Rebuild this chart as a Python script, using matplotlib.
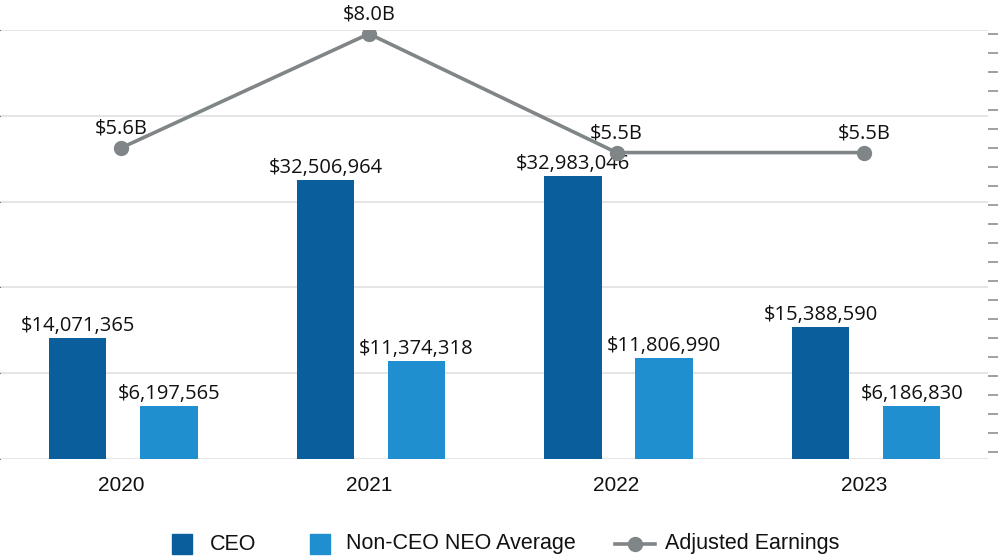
import numpy as np
import matplotlib.pyplot as plt
from matplotlib.patches import Rectangle
from matplotlib.lines import Line2D

years = ["2020", "2021", "2022", "2023"]
ceo = [14071365, 32506964, 32983046, 15388590]
non_ceo = [6197565, 11374318, 11806990, 6186830]
earnings = [5.6, 8.0, 5.5, 5.5]  # $B
earn_labels = ["$5.6B", "$8.0B", "$5.5B", "$5.5B"]

c_ceo = "#0a5e9c"
c_non = "#1f8fcf"
c_line = "#808587"
c_grid = "#e3e3e3"

fig = plt.figure(figsize=(10, 5.6), dpi=100)
ax = fig.add_axes([0.0, 1 - 459 / 560, 0.988, (459 - 30) / 560])

x = np.arange(len(years))
w = 0.232
ax.bar(x - 0.176, ceo, w, color=c_ceo, zorder=3)
ax.bar(x + 0.192, non_ceo, w, color=c_non, zorder=3)

for i in range(len(years)):
    ax.annotate(f"${ceo[i]:,}", (x[i] - 0.176, ceo[i]), xytext=(0, 1.5), textcoords="offset points",
                ha="center", va="bottom", fontsize=14.5, family="Open Sans", color="#111111")
    ax.annotate(f"${non_ceo[i]:,}", (x[i] + 0.192, non_ceo[i]), xytext=(0, 1.5), textcoords="offset points",
                ha="center", va="bottom", fontsize=14.5, family="Open Sans", color="#111111")

ax.set_xlim(-0.49, 3.5)
ax.set_ylim(0, 50e6)
ax.set_yticks(np.arange(0, 50e6 + 1, 10e6))
ax.yaxis.grid(True, color=c_grid, linewidth=1.3, zorder=0)
ax.tick_params(axis="y", left=False, labelleft=False)
ax.set_xticks(x)
ax.set_xticklabels(years, family="Liberation Sans", fontsize=15, color="#111111")
ax.tick_params(axis="x", length=0, pad=12)
for s in ax.spines.values():
    s.set_visible(False)

ax2 = ax.twinx()
ax2.plot(x, earnings, color=c_line, linewidth=2.6, marker="o", markersize=10, zorder=4)
for i in range(len(years)):
    ax2.annotate(earn_labels[i], (x[i], earnings[i]), xytext=(0, 14), textcoords="offset points",
                 ha="center", va="center", fontsize=14.5, family="Open Sans", color="#111111")
ax2.set_ylim(-0.95, 8.08)
ax2.set_yticks(np.arange(-0.8, 8.01, 0.4))
ax2.tick_params(axis="y", right=True, labelright=False, length=7.5, width=1.3, color="#999999")
for s in ax2.spines.values():
    s.set_visible(False)

# legend drawn by hand (pixel positions / figure size)
W, H = 1000, 560
ly = 1 - 544 / H
leg_font = {"family": "Liberation Sans", "size": 15.5, "color": "#111111"}
fig.add_artist(Rectangle((172 / W, 1 - 554 / H), 20 / W, 20 / H, color=c_ceo, transform=fig.transFigure))
fig.text(210 / W, ly, "CEO", va="center", ha="left", **leg_font)
fig.add_artist(Rectangle((310 / W, 1 - 554 / H), 20 / W, 20 / H, color=c_non, transform=fig.transFigure))
fig.text(346 / W, ly, "Non-CEO NEO Average", va="center", ha="left", **leg_font)
fig.add_artist(Line2D([615 / W, 655 / W], [ly, ly], color=c_line, linewidth=2.6, transform=fig.transFigure))
fig.add_artist(Line2D([635 / W], [ly], color=c_line, marker="o", markersize=10, transform=fig.transFigure))
fig.text(665 / W, ly, "Adjusted Earnings", va="center", ha="left", **leg_font)

fig.savefig("out.png", dpi=100)
